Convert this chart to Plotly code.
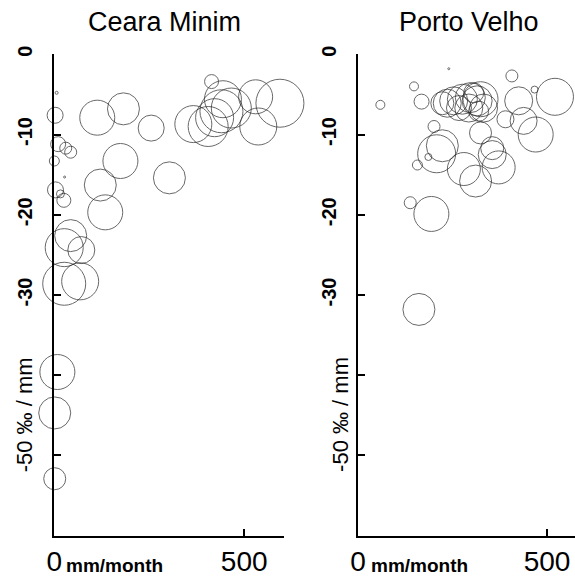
import plotly.graph_objects as go

# ---- data ----
ceara_x = [6, 2, 113, 182, 255, 10, 43, 30, 0, 174, 303, 121, 3, 16, 25, 27, 134,
           43, 71, 26, 26, 68, 8, 1, 1, 414, 594, 530, 537, 366, 405, 440, 444, 466, 422]
ceara_y = [-4.8, -7.6, -7.9, -6.8, -9.2, -11.2, -12.2, -11.7, -13.3, -13.3, -15.4, -16.3,
           -16.9, -17.4, -18.2, -15.3, -19.7, -22.6, -24.4, -24.1, -28.6, -28.3, -39.6,
           -44.7, -52.9, -3.4, -6.1, -5.3, -9.0, -8.7, -9.0, -7.1, -5.6, -6.7, -7.9]
ceara_s = [3, 16, 35, 32, 26, 15, 12, 12, 10, 35, 32, 32, 16, 8, 14, 2, 35,
           32, 27, 38, 43, 37, 35, 32, 22, 14, 48, 34, 37, 37, 40, 43, 37, 40, 38]

porto_x = [240, 407, 148, 59, 168, 521, 467, 425, 390, 438, 470, 324, 201, 236, 223,
           253, 276, 297, 315, 324, 293, 332, 267, 306, 319, 208, 223, 186, 157, 280,
           311, 372, 355, 355, 138, 194, 161]
porto_y = [-1.8, -2.7, -4.0, -6.3, -5.9, -5.3, -4.4, -5.8, -8.1, -8.3, -10.0, -9.8, -9.0,
           -6.1, -6.1, -5.8, -5.6, -5.4, -5.8, -5.6, -6.7, -6.7, -6.7, -4.8, -7.1, -12.4,
           -11.4, -12.8, -13.8, -14.3, -15.8, -14.1, -12.5, -11.7, -18.5, -19.9, -31.8]
porto_s = [2, 12, 9, 9, 15, 37, 7, 28, 17, 27, 35, 22, 12, 28, 23, 28, 30, 30, 30, 35,
           28, 28, 25, 20, 20, 38, 32, 7, 10, 33, 32, 33, 28, 23, 12, 35, 32]

titles = ["Ceara Minim", "Porto Velho"]
y_tickvals = [0, -10, -20, -30, -40, -50]
y_ticktext = ["0", "-10", "-20", "-30", "", ""]
x_tickvals = [0, 500]
x_ticktext = ["0", "500"]
x_unit = "mm/month"
y_unit = "-50 \u2030 / mm"

W, H = 575, 580
fig = go.Figure()

line_col = "#2a2a2a"
for i, (xs, ys, ss) in enumerate([(ceara_x, ceara_y, ceara_s), (porto_x, porto_y, porto_s)]):
    ax = "" if i == 0 else "2"
    fig.add_trace(go.Scatter(
        x=xs, y=ys, mode="markers", xaxis="x" + ax, yaxis="y" + ax,
        cliponaxis=False, showlegend=False, hoverinfo="skip",
        marker=dict(size=ss, color="rgba(0,0,0,0)", symbol="circle",
                    line=dict(color=line_col, width=1)),
    ))

ydom = [(H - 535) / H, 1 - 46 / H]
axis_common = dict(showgrid=False, zeroline=False, showline=True, linecolor="black",
                   linewidth=2, ticks="inside", ticklen=7, tickwidth=2, tickcolor="black")

yfont = dict(family="Liberation Sans, Arial, sans-serif", size=20, color="black", weight="bold")
xfont = dict(family="Liberation Sans, Arial, sans-serif", size=28, color="black")

fig.update_layout(
    width=W, height=H, margin=dict(l=0, r=0, t=0, b=0),
    paper_bgcolor="white", plot_bgcolor="white",
    xaxis=dict(domain=[47 / W, 280 / W], range=[0, 605], anchor="y",
               tickvals=x_tickvals, ticktext=x_ticktext, tickfont=xfont,
               ticklabelstandoff=0, **axis_common),
    yaxis=dict(domain=ydom, range=[-60, 0], anchor="x",
               tickvals=y_tickvals, ticktext=y_ticktext, tickfont=yfont, tickangle=-90,
               ticklabelstandoff=12, **axis_common),
    xaxis2=dict(domain=[355 / W, 1.0], range=[0, 574], anchor="y2",
                tickvals=x_tickvals, ticktext=x_ticktext, tickfont=xfont,
                ticklabelstandoff=0, **axis_common),
    yaxis2=dict(domain=ydom, range=[-60, 0], anchor="x2",
                tickvals=y_tickvals, ticktext=y_ticktext, tickfont=yfont, tickangle=-90,
                ticklabelstandoff=12, **axis_common),
)

title_x = [159, 468]
unit_x = [108, 417]
ylab_x = [17, 337]
for i in range(2):
    fig.add_annotation(text=titles[i], xref="paper", yref="paper",
                       x=title_x[i] / W, y=1 - 13 / H, showarrow=False,
                       xanchor="center", yanchor="middle",
                       font=dict(family="Liberation Sans, Arial, sans-serif", size=27, color="black"))
    fig.add_annotation(text=x_unit, xref="paper", yref="paper",
                       x=unit_x[i] / W, y=1 - 565 / H, showarrow=False,
                       xanchor="center", yanchor="middle",
                       font=dict(family="Liberation Sans, Arial, sans-serif", size=19,
                                 color="black", weight="bold"))
    fig.add_annotation(text=y_unit, xref="paper", yref="paper",
                       x=ylab_x[i] / W, y=1 - 412 / H, showarrow=False, textangle=-90,
                       xanchor="center", yanchor="middle",
                       font=dict(family="Liberation Sans, Arial, sans-serif", size=22, color="black"))

post = (
    "document.documentElement.style.margin='0px';"
    "document.documentElement.style.overflow='hidden';"
    "document.body.style.margin='0px';"
    "document.body.style.overflow='hidden';"
)
fig.write_html("out.html", post_script=post, config={"displayModeBar": False})
